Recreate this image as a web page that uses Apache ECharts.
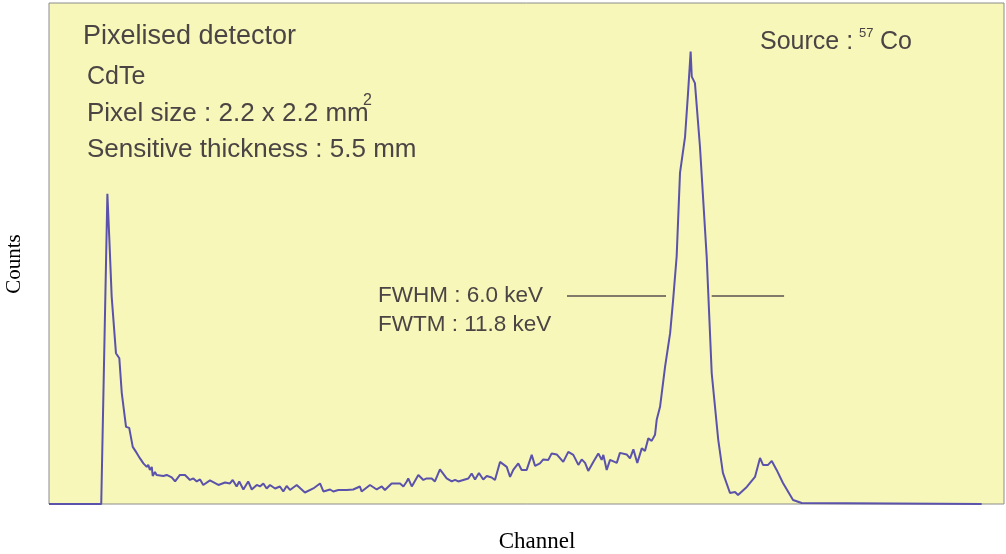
<!DOCTYPE html>
<html>
<head>
<meta charset="utf-8">
<script src="https://cdn.jsdelivr.net/npm/echarts@6/dist/echarts.min.js"></script>
<style>
  html, body { margin: 0; padding: 0; background: #ffffff; }
  #chart { width: 1006px; height: 554px; }
</style>
</head>
<body>
<div id="chart"></div>
<script>
// spectrum: channel (0..512) and counts (0..1000)
const channels = [
  0, 28, 31.3, 32.3, 33.6, 35.9, 37.7, 39.0, 41.3, 43.0, 44.9, 47.0,
  48.8, 50.6, 52.4, 53.2, 54.1, 55.1, 55.6, 56.8, 57.7, 61.3, 63.1, 65.8, 67.6, 70.2, 72.9,
  75.6, 77.4, 79.2, 81.0, 82.7, 86.3, 90.8, 94.4, 97.0, 98.5, 100.6, 102.0, 104.2, 106.8,
  108.7, 111.4, 113.1, 114.9, 116.7, 118.5, 121.2, 123.8, 125.6, 127.4, 129.2, 132.8, 137.2,
  141.7, 145.3, 147.1, 150.7, 152.4, 155.1, 159.6, 163.1, 166.7, 167.6, 172.1, 175.7, 178.4,
  180.1, 183.7, 188.2, 190.0, 191.8, 192.6, 194.5, 198.0, 200.7, 202.5, 205.2, 206.9, 207.9,
  209.6, 213.2, 215.9, 217.7, 219.4, 223.0, 224.8, 226.6, 228.4, 230.5, 232.8, 234.7, 237.3,
  239.1, 241.8, 245.4, 247.2, 248.9, 251.6, 253.4, 256.1, 258.8, 260.6, 263.2, 265.0, 267.7,
  269.5, 272.2, 275.7, 278.4, 281.1, 283.8, 285.6, 287.4, 289.1, 291.8, 294.5, 296.3, 297.2,
  299.0, 300.8, 304.4, 306.1, 309.7, 311.5, 313.3, 315.4, 317.8, 319.5, 321.3, 323.1, 324.9,
  325.8, 327.6, 330.3, 333.0, 334.6, 336.5, 338.3, 341.0, 342.6, 344.0, 344.6, 346.3, 349.0,
  352.6, 355.3, 358.8, 361.3, 365.1, 367.8, 369.4, 374.1, 378.5, 381.2, 382.8, 385.5, 387.5,
  390.1, 393.5, 398.9, 403.5, 500
]
const counts = [
  0, 0, 619, 533, 414, 301, 291, 222, 154, 152, 114, 102,
  91, 81, 74, 78, 68, 74, 56, 64, 58, 56, 58, 53, 45, 58, 58,
  48, 51, 45, 49, 38, 47, 38, 43, 41, 48, 35, 45, 29, 45,
  29, 38, 35, 41, 31, 38, 31, 35, 25, 36, 28, 38, 23,
  31, 41, 25, 29, 25, 28, 28, 29, 35, 25, 38, 29, 35,
  28, 41, 41, 35, 45, 51, 35, 58, 48, 51, 51, 45, 48,
  69, 51, 45, 48, 45, 49, 51, 61, 49, 62, 49, 56, 53,
  48, 84, 74, 54, 68, 81, 68, 68, 98, 76, 81, 89, 88,
  101, 99, 84, 104, 98, 78, 89, 82, 66, 84, 101, 88, 98,
  68, 88, 82, 102, 99, 91, 109, 82, 111, 106, 131, 126, 138,
  168, 194, 274, 341, 407, 494, 661, 733, 820, 903, 853, 840, 713,
  494, 261, 128, 62, 22, 24, 18, 34, 54, 92, 78, 78, 86,
  68, 42, 8, 2, 0
]

// FWHM marker segments (channel range at the counts level)
const fwhmLevel = 415
const fwhmLeft = [277.7, 330.8]
const fwhmRight = [355.3, 394.1]

const spectrum = channels.map((c, i) => [c, counts[i]])

const textColor = '#4a4444'
const sans = 'Liberation Sans'
const serif = 'Liberation Serif'

function label(x, y, text, size) {
  return {
    type: 'text',
    x: x,
    y: y,
    style: { text: text, fill: textColor, font: size + 'px ' + sans, verticalAlign: 'middle' },
  }
}

let myChart = echarts.init(document.getElementById('chart'))
let option = {
  animation: false,
  backgroundColor: '#ffffff',
  grid: {
    left: 49,
    top: 3,
    right: 2,
    bottom: 50,
    outerBoundsMode: 'none',
    show: true,
    backgroundColor: '#f7f7b9',
    borderColor: '#8c8c8c',
    borderWidth: 1,
  },
  xAxis: {
    type: 'value',
    min: 0,
    max: 512,
    axisLine: { show: false },
    axisTick: { show: false },
    axisLabel: { show: false },
    splitLine: { show: false },
  },
  yAxis: {
    type: 'value',
    min: 0,
    max: 1000,
    axisLine: { show: false },
    axisTick: { show: false },
    axisLabel: { show: false },
    splitLine: { show: false },
  },
  series: [
    {
      name: 'spectrum',
      type: 'line',
      data: spectrum,
      symbol: 'none',
      lineStyle: { color: '#5b52ab', width: 2 },
    },
    {
      name: 'fwhmL',
      type: 'line',
      data: fwhmLeft.map((c) => [c, fwhmLevel]),
      symbol: 'none',
      lineStyle: { color: '#5a5050', width: 1.5 },
    },
    {
      name: 'fwhmR',
      type: 'line',
      data: fwhmRight.map((c) => [c, fwhmLevel]),
      symbol: 'none',
      lineStyle: { color: '#5a5050', width: 1.5 },
    },
  ],
  graphic: [
    label(83, 37, 'Pixelised detector', 27),
    label(87, 77, 'CdTe', 25),
    label(87, 114, 'Pixel size : 2.2 x 2.2 mm', 26),
    label(363, 101, '2', 16),
    label(87, 150, 'Sensitive thickness : 5.5 mm', 26),
    label(760, 42, 'Source :', 25),
    label(859, 33, '57', 13),
    label(880, 42, 'Co', 25),
    label(378, 296, 'FWHM : 6.0 keV', 22.5),
    label(378, 325, 'FWTM : 11.8 keV', 22.5),
    {
      type: 'text',
      x: 537,
      y: 542,
      style: { text: 'Channel', fill: '#000', font: '23px ' + serif, align: 'center', verticalAlign: 'middle' },
    },
    {
      type: 'text',
      x: 14,
      y: 264,
      rotation: Math.PI / 2,
      style: { text: 'Counts', fill: '#000', font: '21px ' + serif, align: 'center', verticalAlign: 'middle' },
    },
  ],
}
myChart.setOption(option)
</script>
</body>
</html>
